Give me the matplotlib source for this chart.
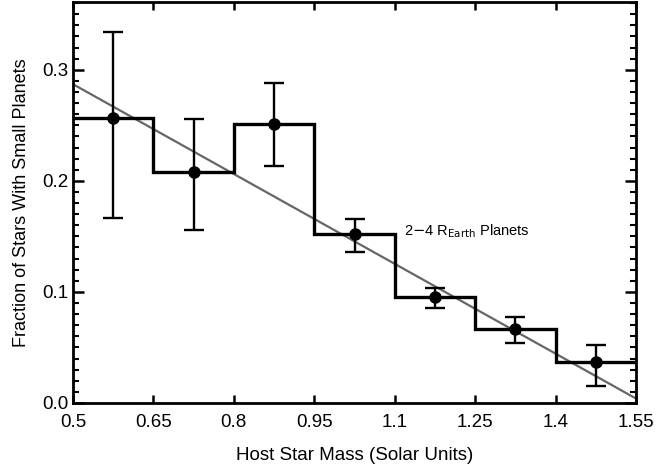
import matplotlib
matplotlib.use("Agg")
import matplotlib.pyplot as plt
from matplotlib.ticker import MultipleLocator, FixedLocator
import numpy as np

plt.rcParams['font.family'] = ['Liberation Sans', 'DejaVu Sans']

bin_edges = [0.5, 0.65, 0.8, 0.95, 1.1, 1.25, 1.4, 1.55]
bin_centers = [0.575, 0.725, 0.875, 1.025, 1.175, 1.325, 1.475]
fraction = [0.2565, 0.2084, 0.2516, 0.152, 0.0952, 0.0667, 0.0367]
err_upper = [0.334, 0.256, 0.2877, 0.1658, 0.1033, 0.0778, 0.052]
err_lower = [0.1664, 0.156, 0.2135, 0.1363, 0.0859, 0.0538, 0.0153]
fit_x = [0.5, 1.55]
fit_y = [0.287, 0.004]
xtick_vals = [0.5, 0.65, 0.8, 0.95, 1.1, 1.25, 1.4, 1.55]
xtick_labels = ['0.5', '0.65', '0.8', '0.95', '1.1', '1.25', '1.4', '1.55']

fig = plt.figure(figsize=(6.56, 4.68), dpi=100)
ax = fig.add_axes([0.1113, 0.1389, 0.8582, 0.8568])

ax.plot(fit_x, fit_y, color='#666666', lw=1.6, zorder=2)
ax.stairs(fraction, bin_edges, color='black', lw=2.4, baseline=None, zorder=3)
frac = np.array(fraction)
yerr = [frac - np.array(err_lower), np.array(err_upper) - frac]
ax.errorbar(bin_centers, fraction, yerr=yerr, fmt='o', color='black',
            ms=8, lw=1.7, capsize=7, capthick=1.7, zorder=4)

ax.text(1.117, 0.155, r'2$-$4 R$_{\mathrm{Earth}}$ Planets', fontsize=10.5,
        va='center', ha='left')

ax.set_xlim(0.5, 1.55)
ax.set_ylim(0.0, 0.361)
ax.xaxis.set_major_locator(FixedLocator(xtick_vals))
ax.set_xticklabels(xtick_labels)
ax.yaxis.set_major_locator(MultipleLocator(0.1))
ax.yaxis.set_minor_locator(MultipleLocator(0.01))
ax.yaxis.set_major_formatter(matplotlib.ticker.FormatStrFormatter('%.1f'))

ax.tick_params(axis='both', which='major', direction='in', top=True, right=True,
               length=8, width=1.8, labelsize=13.5)
ax.tick_params(axis='x', which='major', length=6, pad=8)
ax.tick_params(axis='y', which='major', pad=3.5)
ax.tick_params(axis='y', which='minor', direction='in', right=True, left=True,
               length=4, width=1.5)
for s in ax.spines.values():
    s.set_linewidth(2)

ax.set_xlabel('Host Star Mass (Solar Units)', fontsize=13.5, labelpad=11.5)
ax.set_ylabel('Fraction of Stars With Small Planets', fontsize=13, labelpad=8.5)

fig.savefig('out.png', dpi=100)
